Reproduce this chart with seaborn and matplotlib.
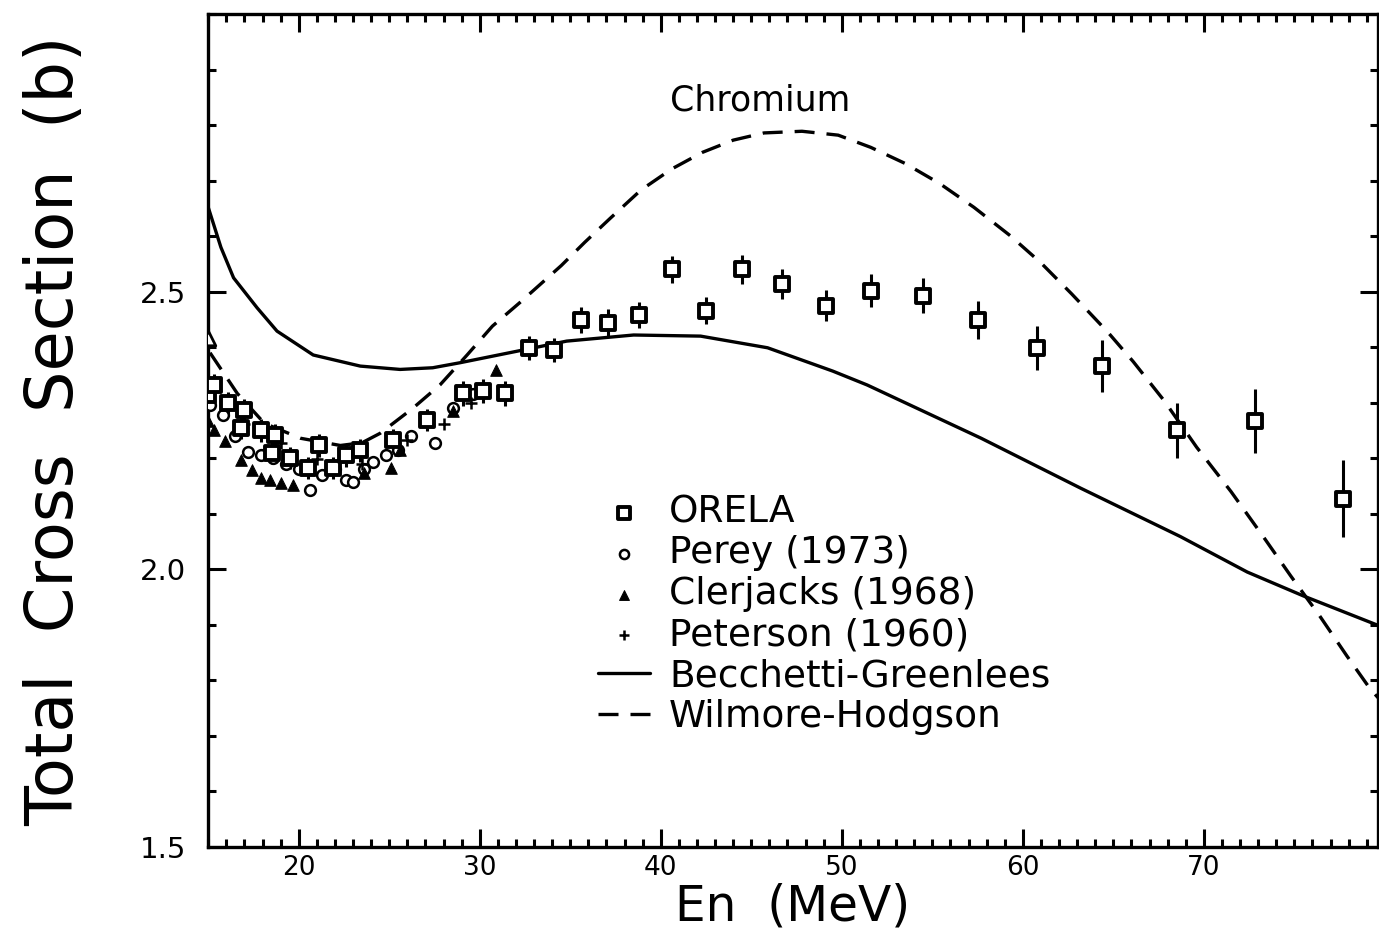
"""
Chromium total neutron cross section vs energy, with optical-model curves.
"""

import matplotlib
matplotlib.use("Agg")
import matplotlib.pyplot as plt
import seaborn as sns
from matplotlib.ticker import MultipleLocator, FixedLocator

sns.set_theme(style="ticks", rc={"text.color": "black",
                                 "axes.labelcolor": "black",
                                 "xtick.color": "black",
                                 "ytick.color": "black"})
plt.rcParams["font.family"] = ["DejaVu Sans"]

# ──────────────────────────────────────────────
# data (En in MeV, sigma in barns)
bg_energy = [15.0, 15.7, 16.4, 17.7, 18.8, 20.8, 23.4, 25.6, 27.4, 28.9,
             33.0, 34.8, 38.5, 42.2, 45.9, 49.5, 51.4, 57.7, 63.2, 68.7,
             72.4, 75.5, 79.7]
bg_sigma = [2.652, 2.580, 2.525, 2.471, 2.429, 2.386, 2.366, 2.360, 2.363, 2.372,
            2.399, 2.411, 2.422, 2.420, 2.399, 2.357, 2.332, 2.236, 2.146, 2.059,
            1.995, 1.952, 1.898]

wh_energy = [15.1, 16.6, 18.1, 20.1, 22.3, 23.5, 24.5, 26.3, 27.8, 29.3,
             30.7, 32.2, 33.3, 34.5, 35.8, 37.2, 38.9, 40.6, 42.3, 44.0,
             45.7, 47.8, 49.8, 51.6, 53.5, 55.4, 57.3, 59.3, 61.0, 62.7,
             64.7, 66.1, 67.8, 69.6, 71.5, 73.3, 74.8, 76.4, 77.9, 79.2,
             79.7]
wh_sigma = [2.390, 2.317, 2.263, 2.236, 2.223, 2.228, 2.245, 2.290, 2.332, 2.386,
            2.438, 2.480, 2.512, 2.547, 2.589, 2.632, 2.683, 2.721, 2.751, 2.773,
            2.786, 2.789, 2.782, 2.760, 2.731, 2.695, 2.652, 2.601, 2.552, 2.496,
            2.427, 2.374, 2.304, 2.220, 2.140, 2.058, 1.988, 1.916, 1.844, 1.784,
            1.766]

orela_energy = [15.0, 15.3, 16.1, 16.8, 17.0, 17.9, 18.5, 18.7, 19.5, 20.5,
                21.1, 21.9, 22.6, 23.4, 25.2, 27.1, 29.1, 30.2, 31.4, 32.7,
                34.1, 35.6, 37.1, 38.8, 40.6, 42.5, 44.5, 46.7, 49.1, 51.6,
                54.5, 57.5, 60.8, 64.4, 68.5, 72.8, 77.7]
orela_sigma = [2.314, 2.332, 2.299, 2.254, 2.287, 2.250, 2.209, 2.241, 2.200, 2.182,
               2.223, 2.182, 2.205, 2.214, 2.232, 2.269, 2.317, 2.321, 2.317, 2.399,
               2.395, 2.449, 2.444, 2.458, 2.540, 2.466, 2.540, 2.514, 2.475, 2.502,
               2.493, 2.449, 2.399, 2.366, 2.250, 2.267, 2.127]
orela_err = [0.02, 0.02, 0.02, 0.02, 0.02, 0.02, 0.02, 0.02, 0.02, 0.02,
             0.02, 0.02, 0.02, 0.02, 0.02, 0.02, 0.022, 0.022, 0.022, 0.022,
             0.022, 0.024, 0.024, 0.024, 0.025, 0.025, 0.027, 0.027, 0.028, 0.03,
             0.032, 0.035, 0.04, 0.047, 0.05, 0.058, 0.069]

perey_energy = [15.1, 15.8, 16.5, 17.2, 17.9, 18.6, 19.3, 20.0, 20.6, 21.3,
                22.0, 22.6, 23.0, 23.6, 24.1, 24.8, 25.5, 26.2, 27.5, 28.5, 29.6]
perey_sigma = [2.296, 2.278, 2.240, 2.212, 2.205, 2.200, 2.190, 2.180, 2.142, 2.170,
               2.180, 2.160, 2.158, 2.180, 2.194, 2.205, 2.215, 2.240, 2.227, 2.290, 2.315]

clerjacks_energy = [15.0, 15.3, 15.9, 16.8, 17.4, 17.9, 18.4, 19.0, 19.7,
                    23.6, 25.1, 25.6, 28.5, 30.9]
clerjacks_sigma = [2.268, 2.250, 2.231, 2.196, 2.178, 2.164, 2.160, 2.155, 2.151,
                   2.173, 2.182, 2.214, 2.285, 2.359]

peterson_energy = [17.0, 19.0, 21.0, 23.5, 26.0, 28.0, 29.5]
peterson_sigma = [2.262, 2.228, 2.198, 2.190, 2.232, 2.262, 2.300]

# open triangle at the left edge
extra_energy = [15.0]
extra_sigma = [2.417]


# ──────────────────────────────────────────────
fig = plt.figure(figsize=(13.79, 9.42), dpi=100)
ax = fig.add_axes([0.151, 0.101, 0.848, 0.884])

sns.lineplot(x=bg_energy, y=bg_sigma, ax=ax, color="black", lw=2.4,
             sort=False, label="Becchetti-Greenlees")
sns.lineplot(x=wh_energy, y=wh_sigma, ax=ax, color="black", lw=2.4,
             sort=False, label="Wilmore-Hodgson")
ax.lines[-1].set_dashes((6, 3.6))

ax.errorbar(orela_energy, orela_sigma, yerr=orela_err, fmt="none",
            ecolor="black", elinewidth=2.2, capsize=0, zorder=3)

sns.scatterplot(x=perey_energy, y=perey_sigma, ax=ax, marker="o", s=60,
                facecolor="white", edgecolor="black", linewidth=1.8,
                zorder=4, label="Perey (1973)")
sns.scatterplot(x=clerjacks_energy, y=clerjacks_sigma, ax=ax, marker="^", s=70,
                color="black", edgecolor="black", zorder=4,
                label="Clerjacks (1968)")
sns.scatterplot(x=extra_energy, y=extra_sigma, ax=ax, marker="^", s=110,
                facecolor="white", edgecolor="black", linewidth=2, zorder=4)
sns.scatterplot(x=peterson_energy, y=peterson_sigma, ax=ax, marker="+", s=70,
                color="black", linewidth=1.8, zorder=4, label="Peterson (1960)")
sns.scatterplot(x=orela_energy, y=orela_sigma, ax=ax, marker="s", s=100,
                facecolor="white", edgecolor="black", linewidth=2.8,
                zorder=5, label="ORELA")

ax.text(45.5, 2.845, "Chromium", fontsize=25, ha="center", va="center")

# axes
ax.set_xlim(15, 79.6)
ax.set_ylim(1.5, 3.0)
ax.xaxis.set_major_locator(FixedLocator([20, 30, 40, 50, 60, 70]))
ax.xaxis.set_minor_locator(MultipleLocator(1))
ax.yaxis.set_major_locator(FixedLocator([1.5, 2.0, 2.5]))
ax.yaxis.set_minor_locator(MultipleLocator(0.1))
ax.set_yticklabels(["1.5", "2.0", "2.5"])

ax.tick_params(which="both", direction="in", top=True, right=True,
               width=2.2, color="black", labelsize=21, labelcolor="black")
ax.tick_params(which="major", length=13)
ax.tick_params(which="minor", length=5.5)
ax.tick_params(axis="x", pad=6, labelsize=19)
ax.tick_params(axis="y", pad=16)
for sp in ax.spines.values():
    sp.set_linewidth(2.4)
    sp.set_color("black")

ax.set_xlabel("En  (MeV)", fontsize=35, labelpad=1)
ax.set_ylabel("Total  Cross  Section  (b)", fontsize=47, labelpad=38)

# legend in the original order
handles, labels = ax.get_legend_handles_labels()
order = ["ORELA", "Perey (1973)", "Clerjacks (1968)", "Peterson (1960)",
         "Becchetti-Greenlees", "Wilmore-Hodgson"]
lookup = dict(zip(labels, handles))
leg = ax.legend([lookup[k] for k in order], order, loc="upper left",
                bbox_to_anchor=(0.333, 0.423), frameon=False, fontsize=27,
                handlelength=1.4, handletextpad=0.5, labelspacing=0.13,
                borderpad=0, borderaxespad=0, markerscale=0.85)

fig.savefig("out.png", dpi=100, facecolor="white")
plt.close(fig)
